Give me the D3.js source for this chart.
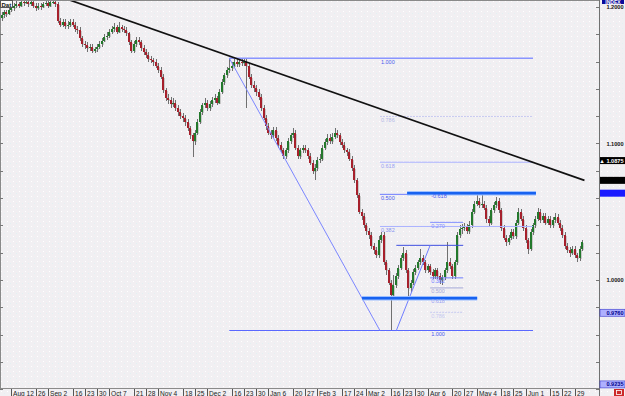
<!DOCTYPE html>
<html><head><meta charset="utf-8">
<script src="https://cdn.jsdelivr.net/npm/d3@7"></script>
<style>body{margin:0;background:#f1eff2;overflow:hidden}svg{display:block}</style>
</head><body>
<svg id="c" width="625" height="396"></svg>
<script>
// ---------- DATA ----------
const firstOpen = 1.192;
const closes = [
1.194,1.196,1.195,1.198,1.199,1.201,1.202,1.201,1.204,1.203,
1.204,1.202,1.204,1.201,1.199,1.201,1.200,1.202,1.203,1.201,
1.204,1.204,1.202,1.190,1.187,1.189,1.186,1.187,1.189,1.187,
1.184,1.183,1.177,1.173,1.172,1.170,1.171,1.168,1.169,1.171,
1.173,1.175,1.178,1.179,1.182,1.184,1.185,1.182,1.185,1.184,
1.183,1.181,1.174,1.168,1.173,1.176,1.174,1.170,1.167,1.165,
1.162,1.161,1.160,1.157,1.154,1.149,1.139,1.133,1.132,1.129,
1.130,1.126,1.123,1.120,1.119,1.116,1.111,1.106,1.102,1.108,
1.116,1.123,1.128,1.130,1.126,1.129,1.132,1.133,1.130,1.138,
1.145,1.150,1.154,1.155,1.157,1.160,1.158,1.160,1.159,1.160,
1.157,1.149,1.143,1.141,1.138,1.134,1.126,1.119,1.113,1.108,
1.106,1.110,1.104,1.099,1.095,1.091,1.095,1.102,1.106,1.108,
1.097,1.091,1.095,1.097,1.095,1.091,1.086,1.080,1.082,1.088,
1.089,1.097,1.101,1.104,1.102,1.105,1.108,1.106,1.101,1.099,
1.095,1.094,1.089,1.082,1.073,1.062,1.050,1.047,1.040,1.036,
1.033,1.025,1.022,1.018,1.029,1.033,1.013,1.007,0.998,0.989,
0.996,1.003,1.009,1.016,1.020,1.007,0.994,0.998,1.006,1.009,
1.013,1.016,1.013,1.007,1.010,1.006,1.003,1.007,1.003,1.000,
1.002,1.007,1.013,1.010,1.003,1.013,1.033,1.037,1.038,1.039,
1.036,1.040,1.050,1.056,1.058,1.055,1.056,1.053,1.045,1.042,
1.051,1.055,1.058,1.051,1.038,1.031,1.028,1.031,1.035,1.032,
1.042,1.050,1.045,1.038,1.029,1.023,1.035,1.040,1.045,1.050,
1.044,1.047,1.042,1.045,1.040,1.044,1.046,1.042,1.038,1.033,
1.025,1.022,1.020,1.023,1.018,1.016,1.023,1.028];
const highs = [
1.196,1.198,1.198,1.200,1.202,1.203,1.205,1.204,1.206,1.206,
1.207,1.206,1.206,1.205,1.203,1.203,1.203,1.204,1.205,1.205,
1.206,1.206,1.206,1.204,1.192,1.191,1.191,1.190,1.191,1.191,
1.189,1.186,1.185,1.179,1.175,1.174,1.173,1.173,1.171,1.173,
1.175,1.177,1.180,1.182,1.184,1.186,1.188,1.187,1.189,1.187,
1.186,1.185,1.182,1.176,1.175,1.178,1.178,1.176,1.172,1.169,
1.167,1.164,1.163,1.162,1.159,1.156,1.151,1.141,1.136,1.134,
1.133,1.132,1.128,1.125,1.122,1.121,1.118,1.113,1.108,1.110,
1.118,1.125,1.130,1.133,1.132,1.131,1.134,1.136,1.135,1.140,
1.147,1.152,1.156,1.162,1.160,1.162,1.163,1.162,1.162,1.162,
1.163,1.159,1.151,1.146,1.143,1.140,1.136,1.128,1.121,1.115,
1.110,1.112,1.112,1.106,1.101,1.097,1.097,1.104,1.108,1.111,
1.110,1.099,1.097,1.099,1.099,1.097,1.093,1.088,1.085,1.090,
1.092,1.099,1.103,1.107,1.107,1.108,1.111,1.110,1.108,1.103,
1.101,1.097,1.096,1.091,1.084,1.075,1.064,1.052,1.049,1.042,
1.038,1.035,1.027,1.024,1.032,1.035,1.035,1.015,1.009,1.000,
1.004,1.005,1.011,1.018,1.024,1.022,1.009,1.000,1.008,1.011,
1.015,1.023,1.018,1.015,1.012,1.012,1.008,1.009,1.009,1.005,
1.004,1.009,1.028,1.016,1.012,1.015,1.035,1.040,1.041,1.042,
1.041,1.043,1.052,1.058,1.063,1.060,1.064,1.058,1.055,1.047,
1.053,1.057,1.061,1.060,1.053,1.040,1.033,1.033,1.037,1.037,
1.044,1.053,1.052,1.047,1.040,1.031,1.037,1.042,1.047,1.053,
1.052,1.049,1.049,1.047,1.047,1.046,1.049,1.048,1.044,1.040,
1.035,1.027,1.024,1.025,1.025,1.020,1.025,1.029];
const lows = [
1.190,1.192,1.193,1.194,1.196,1.197,1.199,1.199,1.200,1.201,
1.202,1.200,1.201,1.199,1.197,1.198,1.198,1.199,1.201,1.199,
1.200,1.202,1.200,1.188,1.185,1.185,1.184,1.184,1.185,1.185,
1.182,1.180,1.175,1.171,1.169,1.167,1.168,1.166,1.166,1.167,
1.169,1.171,1.174,1.176,1.177,1.180,1.182,1.180,1.181,1.182,
1.181,1.179,1.172,1.166,1.166,1.171,1.172,1.168,1.165,1.163,
1.160,1.159,1.157,1.155,1.152,1.147,1.137,1.131,1.129,1.126,
1.127,1.124,1.120,1.118,1.116,1.113,1.109,1.103,1.090,1.099,
1.106,1.114,1.121,1.126,1.124,1.124,1.127,1.130,1.128,1.129,
1.136,1.143,1.148,1.152,1.153,1.155,1.156,1.156,1.157,1.157,
1.126,1.147,1.141,1.138,1.135,1.132,1.124,1.117,1.110,1.106,
1.103,1.104,1.102,1.097,1.093,1.089,1.089,1.093,1.100,1.104,
1.095,1.089,1.089,1.093,1.093,1.089,1.084,1.078,1.073,1.080,
1.086,1.087,1.095,1.099,1.100,1.100,1.103,1.104,1.099,1.097,
1.093,1.091,1.087,1.080,1.071,1.060,1.048,1.044,1.038,1.033,
1.030,1.023,1.019,1.016,1.016,1.027,1.011,1.004,0.996,0.963,
0.985,0.994,1.001,1.007,1.014,1.005,0.987,0.991,0.996,1.004,
1.007,1.011,1.011,1.005,1.005,1.004,1.001,1.001,1.001,0.997,
0.996,1.000,1.005,1.008,1.001,1.001,1.011,1.031,1.034,1.036,
1.034,1.034,1.038,1.048,1.054,1.053,1.053,1.051,1.042,1.039,
1.040,1.049,1.053,1.049,1.036,1.029,1.025,1.026,1.029,1.030,
1.030,1.040,1.043,1.036,1.027,1.019,1.021,1.033,1.038,1.043,
1.042,1.042,1.040,1.040,1.038,1.038,1.042,1.040,1.036,1.031,
1.023,1.020,1.017,1.018,1.016,1.013,1.014,1.021];

const dateLabels = ["Aug 12","26","Sep 2","16","23","30","Oct 7","21","28","Nov 4","18","25","Dec 2","16","23","30","Jan 6","20","27","Feb 3","17","24","Mar 2","16","23","30","Apr 6","20","27","May 4","18","25","Jun 1","15","22","29"];
const dateIdx = [4,14,19,29,34,39,44,54,59,64,74,79,84,94,99,104,109,119,124,129,139,144,149,159,164,169,174,184,189,194,204,209,214,224,229,234];
const priceLabels = [1.2, 1.1, 1.0];
const priceTicks = d3.range(0, 15).map(k => 0.92 + k*0.02);

const trendLine = [[28, 1.205], [238, 1.073]];
const fibMainAnchors = [[93, 1.1625], [154.5, 0.963]];
const fibMainLevels = [1, 0.786, 0.618, 0.5, 0.382, 0];
const fibMainText = ["1.000","0.786","0.618","0.500","0.382",""];
const fibMainEnd = 217;
const fib2Anchors = [[161.2, 0.963], [175, 1.0254]];
const fib2Levels = [1, 0.786, 0.618, 0.5, 0.382, 0, -0.27, -0.618];
const fib2Text = ["1.000","0.786","0.618","0.500","0.382","","0.270","-0.618"];
const fib2End = 188.5;
const thickLines = [[165.6, 218.2, 1.0636], [147.2, 194.2, 0.9866]];
const markers = [
  {p:1.0875, txt:"▲ 1.0875", bg:"#000", fg:"#fff"},
  {p:1.073, txt:"", bg:"#000", fg:"#fff"},
  {p:1.0636, txt:"", bg:"#1a1aff", fg:"#fff"},
  {p:0.976, txt:"0.9760", bg:"#aeb0ff", fg:"#00008b"},
  {p:0.9235, txt:"0.9235", bg:"#aeb0ff", fg:"#00008b"}
];

// ---------- DRAW ----------
const svg = d3.select("#c");
const PL=0, PR=599, PT=1, PB=388;
const x = d3.scaleLinear().domain([0,237]).range([1.5,582]);
const y = d3.scaleLinear().domain([0.92,1.2]).range([389.2,7]);
const font = "'Liberation Sans', Arial, sans-serif";

const defs = svg.append("defs");
const pat = defs.append("pattern").attr("id","sp").attr("width",6).attr("height",5).attr("patternUnits","userSpaceOnUse");
pat.append("rect").attr("width",6).attr("height",5).attr("fill","#f1eff2");
pat.append("rect").attr("x",1).attr("y",1).attr("width",1).attr("height",1).attr("fill","#ffffff");
pat.append("rect").attr("x",4).attr("y",3).attr("width",1).attr("height",1).attr("fill","#e2f1f3");
defs.append("clipPath").attr("id","pc").append("rect").attr("x",PL).attr("y",PT).attr("width",PR-PL).attr("height",PB-PT);

svg.append("rect").attr("width",625).attr("height",396).attr("fill","url(#sp)");

// borders
svg.append("line").attr("x1",0).attr("x2",PR).attr("y1",0.5).attr("y2",0.5).attr("stroke","#8a8a8a");
svg.append("line").attr("x1",0.5).attr("x2",0.5).attr("y1",0).attr("y2",PB).attr("stroke","#8a8a8a");
svg.append("line").attr("x1",PR+0.5).attr("x2",PR+0.5).attr("y1",0).attr("y2",396).attr("stroke","#707070");
svg.append("line").attr("x1",0).attr("x2",PR).attr("y1",PB+0.5).attr("y2",PB+0.5).attr("stroke","#8a8a8a");

// price ticks left and right
priceTicks.forEach(p=>{
  const yy = Math.round(y(p))+0.5;
  svg.append("line").attr("x1",0).attr("x2",3).attr("y1",yy).attr("y2",yy).attr("stroke","#777");
  svg.append("line").attr("x1",PR-3).attr("x2",PR).attr("y1",yy).attr("y2",yy).attr("stroke","#777");
});

const g = svg.append("g").attr("clip-path","url(#pc)");

// candles
const cg = g.append("g").attr("shape-rendering","crispEdges");
closes.forEach((c,i)=>{
  const o = i===0 ? firstOpen : closes[i-1];
  const rx = Math.round(x(i));
  const yt = y(Math.max(o,c)), yb = y(Math.min(o,c));
  const h = Math.max(1, yb-yt);
  cg.append("rect").attr("x",rx).attr("y",y(highs[i])).attr("width",1).attr("height",Math.max(1,y(lows[i])-y(highs[i]))).attr("fill","#707070");
  cg.append("rect").attr("x",rx+1).attr("y",yt+1).attr("width",1).attr("height",h).attr("fill","#c9c9c9");
  cg.append("rect").attr("x",rx-1).attr("y",yt).attr("width",2).attr("height",h).attr("fill", c>=o ? "#23782c" : "#a6202c");
});

// main fib
const mp = l => fibMainAnchors[1][1] + l*(fibMainAnchors[0][1]-fibMainAnchors[1][1]);
const mainStyle = {1:["#8995ff",1.6,null,"#4a58ee"],0.786:["#c6c9f0",1,"2,1","#b5b8e6"],0.618:["#aab2ff",1,null,"#9aa2f2"],0.5:["#6f7dff",1,null,"#4a58ee"],0.382:["#aab2ff",1,null,"#8a92f0"],0:["#5a68ff",1.2,null,"#4a58ee"]};
fibMainLevels.forEach((l,k)=>{
  const st = mainStyle[l];
  const yy = y(mp(l));
  const x0 = (l===1||l===0) ? x(fibMainAnchors[0][0]) : x(fibMainAnchors[1][0]);
  const ln = g.append("line").attr("x1",x0).attr("x2",x(fibMainEnd)).attr("y1",yy).attr("y2",yy).attr("stroke",st[0]).attr("stroke-width",st[1]);
  if(st[2]) ln.attr("stroke-dasharray",st[2]);
  if(fibMainText[k]) g.append("text").attr("x",x(fibMainAnchors[1][0])+1).attr("y",yy+5.5).text(fibMainText[k]).attr("font-family",font).attr("font-size",5.5).attr("fill",st[3]);
});
g.append("line").attr("x1",x(fibMainAnchors[0][0])).attr("y1",y(fibMainAnchors[0][1])).attr("x2",x(fibMainAnchors[1][0])).attr("y2",y(fibMainAnchors[1][1])).attr("stroke","#7b86ff").attr("stroke-width",1);

// second fib
const sp = l => fib2Anchors[1][1] + l*(fib2Anchors[0][1]-fib2Anchors[1][1]);
const s2 = {1:"#4a58ee",0.786:"#c6c9f0",0.618:"#9aa2f2",0.5:"#a6a9d8",0.382:"#6f7dff",0:"#3f4fe0","-0.27":"#7f8cff","-0.618":"#4a58ee"};
fib2Levels.forEach((l,k)=>{
  const yy = y(sp(l));
  const col = s2[String(l)];
  if(l!==1 && l!==0.618 && l!==-0.618){
    const x0 = l===0 ? x(fib2Anchors[0][0]) : x(fib2Anchors[1][0]);
    const ln = g.append("line").attr("x1",x0).attr("x2",x(fib2End)).attr("y1",yy).attr("y2",yy).attr("stroke",col).attr("stroke-width",1);
    if(l===0.786) ln.attr("stroke-dasharray","2,1");
  }
});
g.append("line").attr("x1",x(fib2Anchors[0][0])).attr("y1",y(fib2Anchors[0][1])).attr("x2",x(fib2Anchors[1][0])).attr("y2",y(fib2Anchors[1][1])).attr("stroke","#6f7dff").attr("stroke-width",1);

// thick lines
thickLines.forEach(t=>{
  g.append("line").attr("x1",x(t[0])).attr("x2",x(t[1])).attr("y1",y(t[2])).attr("y2",y(t[2])).attr("stroke","#9ec0ff").attr("stroke-width",4.5);
  g.append("line").attr("x1",x(t[0])).attr("x2",x(t[1])).attr("y1",y(t[2])).attr("y2",y(t[2])).attr("stroke","#1762f0").attr("stroke-width",2.6);
});
fib2Levels.forEach((l,k)=>{
  if(!fib2Text[k]) return;
  const yy = y(sp(l));
  g.append("text").attr("x",x(fib2Anchors[1][0])+1).attr("y",yy+5.5).text(fib2Text[k]).attr("font-family",font).attr("font-size",5.5).attr("fill",s2[String(l)]);
});

// trend line
g.append("line").attr("x1",x(trendLine[0][0])).attr("y1",y(trendLine[0][1])).attr("x2",x(trendLine[1][0])).attr("y2",y(trendLine[1][1])).attr("stroke","#111").attr("stroke-width",1.7);

// Dat box
svg.append("rect").attr("x",0.5).attr("y",0.5).attr("width",12).attr("height",7).attr("fill","#fafafa").attr("stroke","#555");
svg.append("text").attr("x",1.5).attr("y",6.5).text("Dat").attr("font-family",font).attr("font-size",6).attr("font-weight","bold").attr("fill","#111");

// date axis
dateLabels.forEach((t,k)=>{
  const xx = Math.round(x(dateIdx[k]))+0.5;
  svg.append("line").attr("x1",xx).attr("x2",xx).attr("y1",PB+1).attr("y2",396).attr("stroke","#555");
  svg.append("text").attr("x",xx+1.5).attr("y",395.5).text(t).attr("font-family",font).attr("font-size",6.6).attr("fill","#222");
});

// right axis
priceLabels.forEach(p=>{
  svg.append("text").attr("x",623.5).attr("y",y(p)+2).attr("text-anchor","end").text(d3.format(".4f")(p)).attr("font-family",font).attr("font-size",5.6).attr("font-weight","bold").attr("fill","#111");
});
svg.append("rect").attr("x",602).attr("y",-3).attr("width",22).attr("height",7).attr("fill","#0a0a9a");
svg.append("text").attr("x",613).attr("y",3.5).attr("text-anchor","middle").text("INDEX").attr("font-family",font).attr("font-size",5).attr("font-weight","bold").attr("fill","#fff");
markers.forEach(m=>{
  const yy = y(m.p);
  svg.append("rect").attr("x",PR+1).attr("y",yy-3.5).attr("width",625-PR-1).attr("height",7).attr("fill",m.bg).attr("stroke",m.txt && m.bg!=="#000" ? "#3a3acc":"none").attr("stroke-width",0.6);
  if(m.txt) svg.append("text").attr("x",623.5).attr("y",yy+2).attr("text-anchor","end").text(m.txt).attr("font-family",font).attr("font-size",5.6).attr("font-weight","bold").attr("fill",m.fg);
});
svg.append("rect").attr("x",614).attr("y",389).attr("width",10).attr("height",7).attr("fill","#cc2a2a");
svg.append("rect").attr("x",616.5).attr("y",390.5).attr("width",5).attr("height",4).attr("fill","none").attr("stroke","#fff").attr("stroke-width",0.8);
</script>
</body></html>
